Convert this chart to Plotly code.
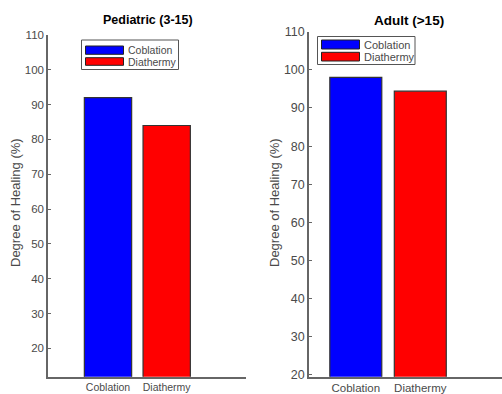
import plotly.graph_objects as go

# ---- data ----
categories = ["Coblation", "Diathermy"]
pediatric_values = [92, 84]
adult_values = [98, 94.4]
bar_colors = ["#0000FF", "#FF0000"]
panel_titles = ["Pediatric (3-15)", "Adult (>15)"]
y_title = "Degree of Healing (%)"
left_ticks = [20, 30, 40, 50, 60, 70, 80, 90, 100, 110]
right_ticks = [20, 30, 40, 50, 60, 70, 80, 90, 100, 110]

W, H = 502, 394
FONT = "Liberation Sans, Arial, sans-serif"
AX = "#666666"
TXT = "#4a4a4a"


def px(x):
    return x / W


def py(y):
    return 1 - y / H


fig = go.Figure()
fig.add_trace(go.Bar(x=categories, y=pediatric_values, marker_color=bar_colors,
                     marker_line_color="#333333", marker_line_width=1.2,
                     width=0.806, xaxis="x", yaxis="y", showlegend=False))
fig.add_trace(go.Bar(x=categories, y=adult_values, marker_color=bar_colors,
                     marker_line_color="#333333", marker_line_width=1.2,
                     width=0.806, xaxis="x2", yaxis="y2", showlegend=False))

axcommon = dict(showline=True, linecolor=AX, linewidth=1.5, showgrid=False,
                zeroline=False, tickcolor=AX, tickwidth=1, automargin=False)

fig.update_layout(
    width=W, height=H, margin=dict(l=0, r=0, t=0, b=0),
    plot_bgcolor="white", paper_bgcolor="white",
    font=dict(family=FONT, color=TXT),
    xaxis=dict(domain=[px(48), px(246)], range=[-1.022, 2.351], anchor="y",
               ticks="", tickfont=dict(size=10.5, color=TXT), **axcommon),
    yaxis=dict(domain=[py(376.7), py(35)], range=[11.84, 110], anchor="x",
               ticks="inside", ticklen=3,
               tickvals=left_ticks, tickfont=dict(size=11.5, color=TXT),
               **axcommon),
    xaxis2=dict(domain=[px(309), 1], range=[-0.7256, 2.267], anchor="y2",
                ticks="", tickfont=dict(size=11.5, color=TXT), **axcommon),
    yaxis2=dict(domain=[py(376.7), py(31.7)], range=[19.55, 110], anchor="x2",
                ticks="inside", ticklen=3,
                tickvals=right_ticks, tickfont=dict(size=12.5, color=TXT),
                **axcommon),
)

# titles
fig.add_annotation(x=px(148), y=py(20), xref="paper", yref="paper",
                   text="<b>%s</b>" % panel_titles[0], showarrow=False,
                   xanchor="center", yanchor="middle",
                   font=dict(size=12.5, color="black"))
fig.add_annotation(x=px(409), y=py(20.5), xref="paper", yref="paper",
                   text="<b>%s</b>" % panel_titles[1], showarrow=False,
                   xanchor="center", yanchor="middle",
                   font=dict(size=13.5, color="black"))
# y titles
fig.add_annotation(x=px(15), y=py(203), xref="paper", yref="paper",
                   text=y_title, textangle=-90, showarrow=False,
                   xanchor="center", yanchor="middle",
                   font=dict(size=13, color=TXT))
fig.add_annotation(x=px(274), y=py(203), xref="paper", yref="paper",
                   text=y_title, textangle=-90, showarrow=False,
                   xanchor="center", yanchor="middle",
                   font=dict(size=13, color=TXT))

# legends (drawn manually to get wide MATLAB-style swatches)
legends = [
    dict(box=(81.5, 40, 178.5, 69.5), sw_x=(85.5, 123.5),
         rows=[(46, 54.3), (57.7, 65.3)], tx=126, fs=10.5),
    dict(box=(317.5, 36.5, 415, 64.5), sw_x=(321.5, 359.5),
         rows=[(40, 49), (52.3, 61)], tx=362, fs=11),
]
for lg in legends:
    x0, y0, x1, y1 = lg["box"]
    fig.add_shape(type="rect", xref="paper", yref="paper",
                  x0=px(x0), x1=px(x1), y0=py(y1), y1=py(y0),
                  line=dict(color="#555555", width=1), fillcolor="white")
    for (ya, yb), col, name in zip(lg["rows"], bar_colors, categories):
        fig.add_shape(type="rect", xref="paper", yref="paper",
                      x0=px(lg["sw_x"][0]), x1=px(lg["sw_x"][1]),
                      y0=py(yb), y1=py(ya),
                      line=dict(color="#222222", width=1), fillcolor=col)
        fig.add_annotation(x=px(lg["tx"]), y=py((ya + yb) / 2), xref="paper",
                           yref="paper", text=name, showarrow=False,
                           xanchor="left", yanchor="middle",
                           font=dict(size=lg["fs"], color=TXT))

fig.write_html(
    "out.html",
    config={"displayModeBar": False},
    post_script="document.body.style.margin='0';document.body.style.overflow='hidden';",
)
